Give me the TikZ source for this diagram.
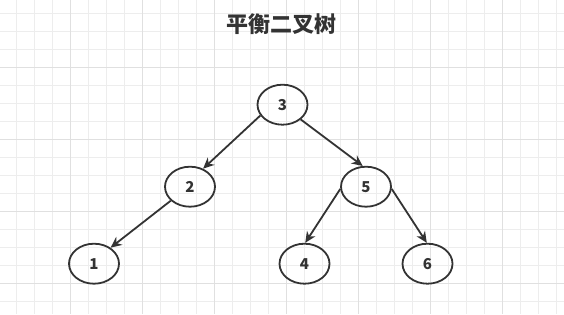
\documentclass[tikz,border=0pt]{standalone}
\usepackage{fontspec}
\usepackage{tikz}
\usetikzlibrary{shapes.geometric,arrows.meta}
\newfontfamily\cjk{Noto Sans CJK SC}
\definecolor{inkgray}{HTML}{333333}
\definecolor{gridminor}{HTML}{EDEDED}
\definecolor{gridmajor}{HTML}{E0E0E0}

\begin{document}
\begin{tikzpicture}[
    x=1pt,y=1pt,
    treenode/.style={draw=inkgray,ellipse,line width=1.8pt,minimum width=50pt,minimum height=40pt,
        inner sep=0pt,text=inkgray,font=\cjk\bfseries\fontsize{15}{18}\selectfont},
    every child node/.style={treenode},
    level 1/.style={level distance=82pt,sibling distance=176pt},
    level 2/.style={level distance=77pt,sibling distance=123pt},
    edge from parent/.style={draw=inkgray,line width=1.8pt,-{Stealth[length=11pt,width=10pt]}},
    link/.style 2 args={edge from parent path={(\tikzparentnode.#1) -- (\tikzchildnode.#2)}}
]
\useasboundingbox (0,0) rectangle (564,-314);
\fill[white] (0,0) rectangle (564,-314);
% grid
\foreach \i in {0,...,31} {
    \pgfmathsetmacro\gx{16.7+18*\i}
    \draw[gridminor,line width=1pt] (\gx,0) -- (\gx,-314);
}
\foreach \i in {0,...,17} {
    \pgfmathsetmacro\gy{-13.3-18*\i}
    \draw[gridminor,line width=1pt] (0,\gy) -- (564,\gy);
}
\foreach \i in {0,...,7} {
    \pgfmathsetmacro\gx{70.7+72*\i}
    \draw[gridmajor,line width=1pt] (\gx,0) -- (\gx,-314);
}
\foreach \i in {0,...,3} {
    \pgfmathsetmacro\gy{-67.3-72*\i}
    \draw[gridmajor,line width=1pt] (0,\gy) -- (564,\gy);
}
\node (title) at (281.7,-24) {\cjk\bfseries\fontsize{22}{25}\selectfont\color{inkgray}平衡二叉树};
% tree
\node[treenode] (n3) at (282.5,-104.7) {3}
    child[xshift=-4.5pt,link={206}{54}] {
        node (n2) {2}
        child[xshift=-96pt,link={216}{44}] { node (n1) {1} }
    }
    child[xshift=-4.5pt,link={321}{99}] {
        node (n5) {5}
        child[link={185}{88}] { node (n4) {4} }
        child[link={355}{92}] { node (n6) {6} }
    };
\end{tikzpicture}
\end{document}
